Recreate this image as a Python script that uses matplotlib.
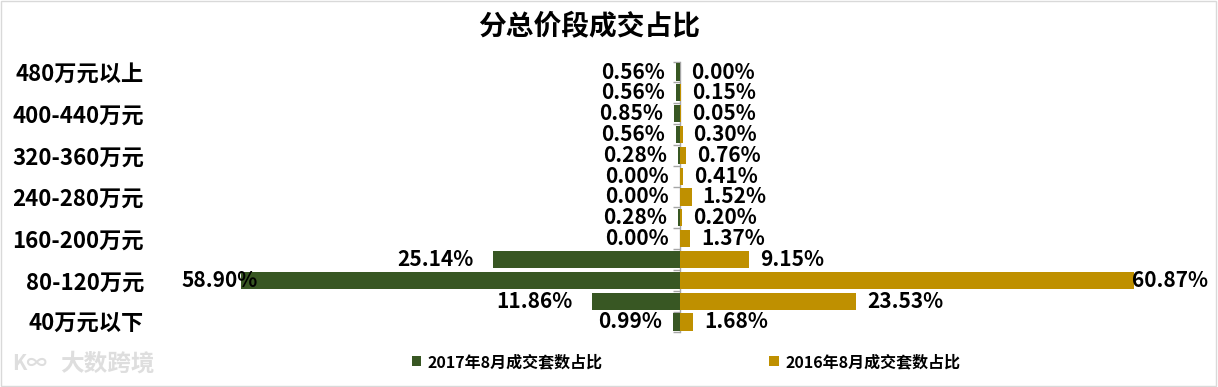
import numpy as np
import matplotlib
matplotlib.use("Agg")
import matplotlib.pyplot as plt
from matplotlib.patches import Rectangle

plt.rcParams['font.family'] = ['Noto Sans CJK SC', 'DejaVu Sans']
plt.rcParams['font.weight'] = 'bold'

# price bands, top to bottom
categories = ['480万元以上', '440-480万元', '400-440万元', '360-400万元',
              '320-360万元', '280-320万元', '240-280万元', '200-240万元',
              '160-200万元', '120-160万元', '80-120万元', '40-80万元', '40万元以下']
share_2017 = [0.56, 0.56, 0.85, 0.56, 0.28, 0.00, 0.00, 0.28, 0.00, 25.14, 58.90, 11.86, 0.99]
share_2016 = [0.00, 0.15, 0.05, 0.30, 0.76, 0.41, 1.52, 0.20, 1.37, 9.15, 60.87, 23.53, 1.68]
series_names = ['2017年8月成交套数占比', '2016年8月成交套数占比']

green = '#385723'
gold = '#BF9000'

W, H = 1218, 387
fig = plt.figure(figsize=(W / 100, H / 100), dpi=100)
ax = fig.add_axes([158 / W, 1 - 332.4 / H, (1210 - 158) / W, (332.4 - 61.6) / H])

y = np.arange(len(categories))
left = -np.array(share_2017)
right = np.array(share_2016)
ax.barh(y, left, height=0.82, color=green, label=series_names[0])
ax.barh(y, right, height=0.82, color=gold, label=series_names[1])

xmin, xmax = -70.0, 71.0
ax.set_xlim(xmin, xmax)
ax.set_ylim(len(categories) - 0.5, -0.5)

for s in ax.spines.values():
    s.set_visible(False)
ax.set_xticks([])
ax.set_yticks(y[::2])
ax.set_yticklabels(categories[::2], fontsize=16, fontweight='bold')
ax.tick_params(axis='y', length=0, pad=10)

# category axis drawn at zero with ticks between categories
sec = ax.secondary_yaxis((0 - xmin) / (xmax - xmin))
sec.set_yticks(np.arange(-0.5, len(categories), 1.0))
sec.set_yticklabels([])
sec.tick_params(axis='y', length=5, color='#a6a6a6', width=1)
sec.spines['left'].set_color('#a6a6a6')
sec.spines['left'].set_linewidth(1)

for i, (a, b) in enumerate(zip(share_2017, share_2016)):
    off_l = -8 if a < 5 else (-14 if a < 50 else 12)
    ax.annotate(f'{a:.2f}%', (-a, i), xytext=(off_l, 0), textcoords='offset points',
                ha='right', va='center', fontsize=15, fontweight='bold', color='black')
    off_r = 8 if b < 50 else -2
    ax.annotate(f'{b:.2f}%', (b, i), xytext=(off_r, 0), textcoords='offset points',
                ha='left', va='center', fontsize=15, fontweight='bold', color='black')

fig.text(589 / W, 1 - 27 / H, '分总价段成交占比', ha='center', va='center',
         fontsize=20, fontweight='bold')

fig.legend(loc='center', bbox_to_anchor=(686 / W, 1 - 362 / H), ncol=2, frameon=False,
           handlelength=0.6, handleheight=0.6, columnspacing=10.4,
           handletextpad=0.4, prop={'weight': 'bold', 'size': 11.5})

fig.text(12 / W, 1 - 364 / H, 'K∞', fontsize=15, color='#dedede', va='center')
fig.text(60 / W, 1 - 364 / H, '大数跨境', fontsize=17, color='#dedede', va='center')

fig.patches.append(Rectangle((0.001, 0.002), 0.997, 0.996, transform=fig.transFigure,
                             fill=False, edgecolor='#d9d9d9', linewidth=1))

fig.savefig('out.png', dpi=100)
